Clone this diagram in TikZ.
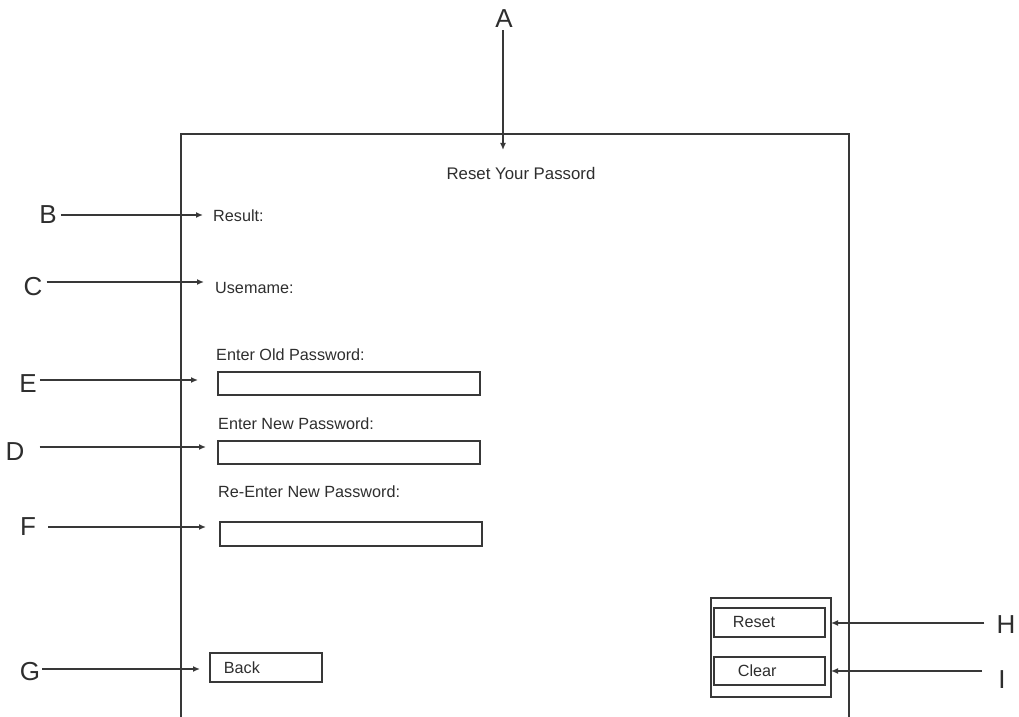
\documentclass[tikz,border=0pt]{standalone}
\usepackage{fontspec}
\setmainfont{Liberation Sans}
\usetikzlibrary{arrows.meta}
\definecolor{ink}{HTML}{2E2E2E}
\definecolor{wire}{HTML}{383838}
\begin{document}
\begin{tikzpicture}[x=1bp,y=-1bp,
  letter/.style={font=\fontsize{26bp}{26bp}\selectfont, inner sep=0pt, text=ink},
  caption/.style={font=\fontsize{16.2bp}{18bp}\selectfont, inner sep=0pt, text=ink, anchor=west},
  field/.style={draw=wire, line width=1.7bp, minimum width=262bp, minimum height=23bp, inner sep=0pt, anchor=north west},
  button/.style={draw=wire, line width=1.7bp, inner sep=0pt, anchor=north west, align=left,
    font=\fontsize{16.2bp}{18bp}\selectfont, text=ink},
  frame/.style={draw=wire, line width=1.7bp},
  arr/.style={draw=wire, line width=1.7bp, -{Latex[length=7bp,width=6bp]}}]
\useasboundingbox (0,0) rectangle (1019,717);

% screen outline, open at the bottom
\draw[frame] (181,717) -- (181,134) -- (849,134) -- (849,717);

% screen contents
\node[caption, anchor=center, font=\fontsize{16.8bp}{18bp}\selectfont] (title) at (521,173) {Reset Your Passord};
\node[caption] (result) at (213,216) {Result:};
\node[caption] (user) at (215,288) {Usemame:};
\node[caption] (oldcap) at (216,355) {Enter Old Password:};
\node[field] (oldbox) at (217,371) {};
\node[caption] (newcap) at (218,424) {Enter New Password:};
\node[field] (newbox) at (217,440) {};
\node[caption] (recap) at (218,492) {Re-Enter New Password:};
\node[field, minimum height=24bp] (rebox) at (219,521) {};

\node[button, minimum width=112bp, minimum height=29bp, text width=84bp, inner xsep=14bp] (back) at (209,652) {Back};

\node[draw=wire, line width=1.7bp, minimum width=120bp, minimum height=99bp, inner sep=0pt, anchor=north west] (group) at (710,597) {};
\node[button, minimum width=111bp, minimum height=29bp, text width=77bp, inner xsep=17bp] (reset) at (713,607) {\hspace*{2bp}Reset};
\node[button, minimum width=111bp, minimum height=28bp, text width=77bp, inner xsep=17bp] (clear) at (713,656) {\hspace*{7bp}Clear};

% callout letters
\node[letter] (A) at (504,19) {A};
\node[letter] (B) at (48,215) {B};
\node[letter] (C) at (33,287) {C};
\node[letter] (E) at (28,384) {E};
\node[letter] (D) at (15,452) {D};
\node[letter] (F) at (28,527) {F};
\node[letter] (G) at (30,672) {G};
\node[letter] (H) at (1006,625) {H};
\node[letter] (I) at (1002,680) {I};

% arrow tips
\coordinate (aTip) at (503,150);
\coordinate (bTip) at (203,215);
\coordinate (cTip) at (204,282);
\coordinate (eTip) at (198,380);
\coordinate (dTip) at (206,447);
\coordinate (fTip) at (206,527);
\coordinate (gTip) at (200,669);
\coordinate (hTip) at (831,623);
\coordinate (iTip) at (831,671);

% callout arrows
\draw[arr] ([yshift=-2bp]A.south -| aTip) -- (aTip);
\draw[arr] ([xshift=4bp]B.east |- bTip) -- (bTip);
\draw[arr] ([xshift=4bp]C.east |- cTip) -- (cTip);
\draw[arr] ([xshift=3bp]E.east |- eTip) -- (eTip);
\draw[arr] ([xshift=15bp]D.east |- dTip) -- (dTip);
\draw[arr] ([xshift=12bp]F.east |- fTip) -- (fTip);
\draw[arr] ([xshift=2bp]G.east |- gTip) -- (gTip);
\draw[arr] ([xshift=-12bp]H.west |- hTip) -- (hTip);
\draw[arr] ([xshift=-16bp]I.west |- iTip) -- (iTip);
\end{tikzpicture}
\end{document}
